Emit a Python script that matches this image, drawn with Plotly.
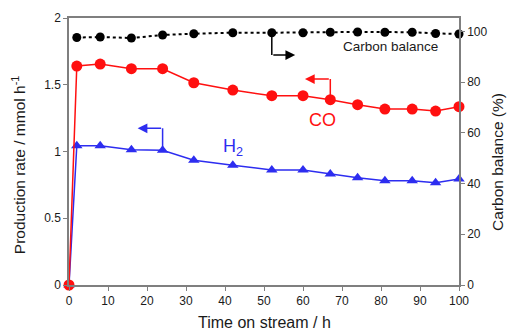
import plotly.graph_objects as go
from plotly.subplots import make_subplots

# ---- data ----
time_h = [0, 2, 8, 16, 24, 32, 42, 52, 60, 67, 74, 81, 88, 94, 100]
co_rate = [0, 1.64, 1.655, 1.62, 1.62, 1.515, 1.46, 1.418, 1.418, 1.388, 1.351, 1.318, 1.318, 1.303, 1.336]
h2_rate = [0, 1.043, 1.043, 1.013, 1.009, 0.934, 0.897, 0.861, 0.861, 0.831, 0.804, 0.781, 0.781, 0.766, 0.794]
cb_time = [2, 8, 16, 24, 32, 42, 52, 60, 67, 74, 81, 88, 94, 100]
carbon_balance = [97.6, 97.8, 97.4, 98.6, 99.1, 99.5, 99.5, 99.5, 99.7, 99.8, 99.7, 99.7, 99.2, 99.0]

left_ticks = [0, 0.5, 1, 1.5, 2]
left_ticklabels = ["0", "0.5", "1", "1.5", "2"]
right_ticks = [0, 20, 40, 60, 80, 100]
x_ticks = [0, 10, 20, 30, 40, 50, 60, 70, 80, 90, 100]

RED = "#ff1010"
BLUE = "#2d2df0"
BLACK = "#000000"
TXT = "#1a1a1a"
AX = "#7f7f7f"
FONT = "Liberation Sans, Arial, sans-serif"

fig = make_subplots(specs=[[{"secondary_y": True}]])

fig.add_trace(go.Scatter(x=time_h, y=h2_rate, mode="lines+markers",
                         line=dict(color=BLUE, width=1.5),
                         marker=dict(symbol="triangle-up", size=10, color=BLUE),
                         cliponaxis=False, showlegend=False), secondary_y=False)
fig.add_trace(go.Scatter(x=time_h, y=co_rate, mode="lines+markers",
                         line=dict(color=RED, width=1.5),
                         marker=dict(symbol="circle", size=11, color=RED),
                         cliponaxis=False, showlegend=False), secondary_y=False)
fig.add_trace(go.Scatter(x=cb_time, y=carbon_balance, mode="lines+markers",
                         line=dict(color=BLACK, width=2, dash="dot"),
                         marker=dict(symbol="circle", size=9, color=BLACK),
                         cliponaxis=False, showlegend=False), secondary_y=True)

# ---- bent arrows (anchored at data points) ----
def bent_arrow(x0, y0, ycorner, xtip, color, yref):
    fig.add_shape(type="line", x0=x0, y0=y0, x1=x0, y1=ycorner,
                  xref="x", yref=yref, line=dict(color=color, width=1.5))
    fig.add_annotation(x=xtip, y=ycorner, ax=x0, ay=ycorner,
                       xref="x", yref=yref, axref="x", ayref=yref,
                       showarrow=True, arrowhead=2, arrowsize=1.3,
                       arrowwidth=1.5, arrowcolor=color, text="")

i_cb = cb_time.index(52)
bent_arrow(cb_time[i_cb], carbon_balance[i_cb], 90.7, 58.0, BLACK, "y2")
i_co = time_h.index(67)
bent_arrow(time_h[i_co], co_rate[i_co], 1.543, 60.5, RED, "y")
i_h2 = time_h.index(24)
bent_arrow(time_h[i_h2], h2_rate[i_h2], 1.174, 17.6, BLUE, "y")

# ---- labels ----
fig.add_annotation(x=82.4, y=93.9, xref="x", yref="y2", text="Carbon balance",
                   showarrow=False, font=dict(size=13.5, color=TXT, family=FONT))
fig.add_annotation(x=65.0, y=1.235, xref="x", yref="y", text="CO",
                   showarrow=False, font=dict(size=18, color=RED, family=FONT))
fig.add_annotation(x=42.0, y=1.03, xref="x", yref="y", text="H<sub>2</sub>",
                   showarrow=False, font=dict(size=18, color=BLUE, family=FONT))

# ---- axis titles ----
TF = dict(size=15.5, color=TXT, family=FONT)
fig.add_annotation(x=-0.128, y=0.449, xref="paper", yref="paper", textangle=-90,
                   xanchor="center", yanchor="middle",
                   text="Production rate / mmol h<sup>-1</sup>", showarrow=False, font=TF)
fig.add_annotation(x=1.10, y=0.461, xref="paper", yref="paper", textangle=-90,
                   xanchor="center", yanchor="middle",
                   text="Carbon balance (%)", showarrow=False, font=TF)
fig.add_annotation(x=0.5, y=-0.142, xref="paper", yref="paper",
                   xanchor="center", yanchor="middle",
                   text="Time on stream / h", showarrow=False,
                   font=dict(size=16, color=TXT, family=FONT))

# page body adds an 8px offset; compensate in the margins
fig.update_layout(
    width=517, height=333,
    margin=dict(l=61, r=66, t=10, b=56),
    paper_bgcolor="white", plot_bgcolor="white",
    font=dict(family=FONT, color=TXT, size=12),
    showlegend=False,
)
fig.update_xaxes(range=[0, 100], domain=[0, 1], tickvals=x_ticks, showline=True,
                 linecolor=AX, linewidth=1.5, mirror=True, ticks="outside", ticklen=4,
                 tickcolor=AX, tickwidth=1, showgrid=False, zeroline=False,
                 tickfont=dict(size=12, color=TXT), automargin=False)
fig.update_yaxes(range=[0, 2], tickvals=left_ticks, ticktext=left_ticklabels,
                 showline=True, linecolor=AX, linewidth=1.5, ticks="outside",
                 ticklen=4, tickcolor=AX, showgrid=False, zeroline=False,
                 tickfont=dict(size=12, color=TXT), automargin=False,
                 secondary_y=False)
fig.update_yaxes(range=[0, 105.3], tickvals=right_ticks, showline=True,
                 linecolor=AX, linewidth=1.5, ticks="outside", ticklen=4,
                 tickcolor=AX, showgrid=False, zeroline=False,
                 tickfont=dict(size=12, color=TXT), automargin=False,
                 secondary_y=True)

fig.write_html("out.html")
